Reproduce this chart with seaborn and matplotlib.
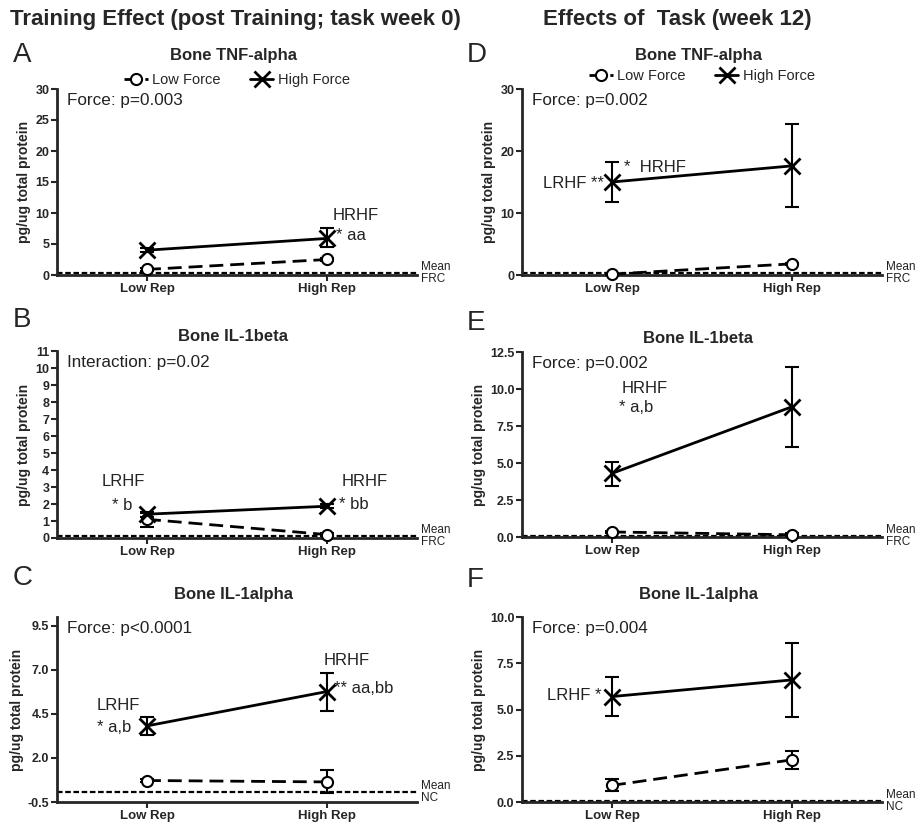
import numpy as np
import pandas as pd
import seaborn as sns
import matplotlib.pyplot as plt
from matplotlib.transforms import blended_transform_factory

# Data (mean, lower/upper error bar ends)
reps = ["Low Rep", "High Rep"]
forces = ["Low Force", "High Force"]
panels = ["A", "B", "C", "D", "E", "F"]
titles = ["Bone TNF-alpha", "Bone IL-1beta", "Bone IL-1alpha",
          "Bone TNF-alpha", "Bone IL-1beta", "Bone IL-1alpha"]
stats = ["Force: p=0.003", "Interaction: p=0.02", "Force: p<0.0001",
         "Force: p=0.002", "Force: p=0.002", "Force: p=0.004"]
ref_names = ["FRC", "FRC", "NC", "FRC", "FRC", "NC"]
ref_values = [0.25, 0.1, 0.05, 0.25, 0.08, 0.05]

low_force = [[0.9, 2.5], [1.1, 0.2], [0.72, 0.64], [0.15, 1.8], [0.34, 0.15], [0.9, 2.28]]
low_force_lo = [[0.7, 2.3], [0.65, 0.1], [0.62, 0.02], [0.05, 1.6], [0.25, 0.08], [0.57, 1.78]]
low_force_hi = [[1.1, 2.7], [1.5, 0.3], [0.82, 1.3], [0.25, 2.0], [0.43, 0.25], [1.24, 2.73]]
high_force = [[4.0, 5.9], [1.4, 1.87], [3.82, 5.77], [15.0, 17.6], [4.3, 8.8], [5.7, 6.6]]
high_force_lo = [[3.7, 4.5], [1.25, 1.75], [3.31, 4.64], [11.7, 11.0], [3.45, 6.1], [4.65, 4.61]]
high_force_hi = [[4.3, 7.5], [1.55, 2.0], [4.35, 6.81], [18.3, 24.3], [5.1, 11.5], [6.77, 8.6]]

ylims = [(0, 30), (0, 11), (-0.5, 10), (0, 30), (0, 12.5), (0, 10)]
yticks = [np.arange(0, 31, 5), np.arange(0, 12, 1), [-0.5, 2.0, 4.5, 7.0, 9.5],
          [0, 10, 20, 30], [0, 2.5, 5.0, 7.5, 10.0, 12.5], [0, 2.5, 5.0, 7.5, 10.0]]
ytick_labels = [["0", "5", "10", "15", "20", "25", "30"],
                [str(v) for v in range(12)],
                ["-0.5", "2.0", "4.5", "7.0", "9.5"],
                ["0", "10", "20", "30"],
                ["0.0", "2.5", "5.0", "7.5", "10.0", "12.5"],
                ["0.0", "2.5", "5.0", "7.5", "10.0"]]

# annotations: (x, y, text, ha)
notes = [
    [(1.03, 9.6, "HRHF", "left"), (1.05, 6.3, "* aa", "left")],
    [(-0.13, 3.35, "LRHF", "center"), (-0.14, 1.9, "* b", "center"),
     (1.21, 3.35, "HRHF", "center"), (1.065, 1.95, "* bb", "left")],
    [(-0.16, 5.0, "LRHF", "center"), (-0.18, 3.75, "* a,b", "center"),
     (1.11, 7.55, "HRHF", "center"), (1.04, 5.95, "** aa,bb", "left")],
    [(-0.045, 14.8, "LRHF **", "right"), (0.065, 17.4, "*  HRHF", "left")],
    [(0.055, 10.05, "HRHF", "left"), (0.04, 8.75, "* a,b", "left")],
    [(-0.06, 5.75, "LRHF *", "right")],
]

sns.set_style("ticks")
plt.rcParams['font.family'] = ['Liberation Sans', 'DejaVu Sans']

fig = plt.figure(figsize=(9.19, 8.22), dpi=100)
W, H = 919, 822
boxes = [(57, 275, 186), (57, 538, 187), (57, 802, 185),
         (522, 275, 186), (522, 537, 185), (522, 802, 185)]
title_y = [1.18, 1.075, 1.12, 1.18, 1.075, 1.12]

for i in range(6):
    left, bottom, height = boxes[i]
    ax = fig.add_axes([left / W, 1 - bottom / H, 360 / W, height / H])
    x = [0, 1]
    df = pd.DataFrame({
        "rep": x * 2,
        "value": low_force[i] + high_force[i],
        "force": ["Low Force"] * 2 + ["High Force"] * 2,
    })
    sns.lineplot(data=df[df.force == "Low Force"], x="rep", y="value", ax=ax,
                 color="black", linestyle=(0, (5, 2.5)), linewidth=2,
                 marker="o", markersize=8, markerfacecolor="white",
                 markeredgewidth=1.5, markeredgecolor="black",
                 label="Low Force", clip_on=False, zorder=4)
    sns.lineplot(data=df[df.force == "High Force"], x="rep", y="value", ax=ax,
                 color="black", linewidth=2, marker="x", markersize=11,
                 markeredgewidth=2, markeredgecolor="black",
                 label="High Force", clip_on=False, zorder=4)
    for mean, lo, hi in [(low_force[i], low_force_lo[i], low_force_hi[i]),
                         (high_force[i], high_force_lo[i], high_force_hi[i])]:
        mean = np.array(mean)
        ax.errorbar(x, mean, yerr=[mean - np.array(lo), np.array(hi) - mean],
                    fmt="none", ecolor="black", elinewidth=1.5, capsize=5,
                    capthick=1.5, zorder=3, clip_on=False)

    ax.axhline(ref_values[i], color="black", linestyle=(0, (2.5, 1.2)),
               linewidth=1.6, zorder=2, clip_on=False)
    tr = blended_transform_factory(ax.transAxes, ax.transData)
    ax.text(1.01, ref_values[i], "Mean", transform=tr, fontsize=8.5,
            ha="left", va="bottom", color="#222222")
    ax.text(1.01, ref_values[i], ref_names[i], transform=tr, fontsize=8.5,
            ha="left", va="top", color="#222222")

    ax.set_xlim(-0.5, 1.5)
    ax.set_ylim(*ylims[i])
    ax.set_xticks(x)
    ax.set_xticklabels(reps, fontsize=9.5, fontweight="bold")
    ax.set_yticks(yticks[i])
    ax.set_yticklabels(ytick_labels[i], fontsize=9, fontweight="bold")
    ax.tick_params(axis="both", width=1.5, length=4, pad=1.5)
    ax.set_xlabel("")
    ax.set_ylabel("pg/ug total protein", fontsize=10, fontweight="bold", labelpad=3)
    for side in ["top", "right"]:
        ax.spines[side].set_visible(False)
    for side in ["left", "bottom"]:
        ax.spines[side].set_linewidth(2)

    ax.text(0.49, title_y[i], titles[i], transform=ax.transAxes, fontsize=12,
            fontweight="bold", ha="center", va="center")
    ax.text(0.028, 0.94, stats[i], transform=ax.transAxes, fontsize=12.3,
            ha="left", va="center", color="#222222")
    for nx, ny, txt, ha in notes[i]:
        ax.text(nx, ny, txt, fontsize=12, ha=ha, va="center", color="#222222")

    if i in (0, 3):
        ax.legend(loc="center", bbox_to_anchor=(0.5, 1.05 if i == 0 else 1.07),
                  ncol=2, frameon=False, fontsize=10.5, handlelength=1.6,
                  handletextpad=0.3, columnspacing=2.0, borderaxespad=0)
    else:
        leg = ax.get_legend()
        if leg is not None:
            leg.remove()

letter_pos = [(13, 55), (13, 320), (13, 578), (467, 55), (467, 323), (467, 580)]
for letter, (lx, ly) in zip(panels, letter_pos):
    fig.text(lx / W, 1 - ly / H, letter, fontsize=20, ha="left", va="center")

fig.text(10 / W, 1 - 20 / H, "Training Effect (post Training; task week 0)",
         fontsize=16, fontweight="bold", ha="left", va="center")
fig.text(543 / W, 1 - 20 / H, "Effects of  Task (week 12)",
         fontsize=16, fontweight="bold", ha="left", va="center")

fig.savefig("out.png", dpi=100)
